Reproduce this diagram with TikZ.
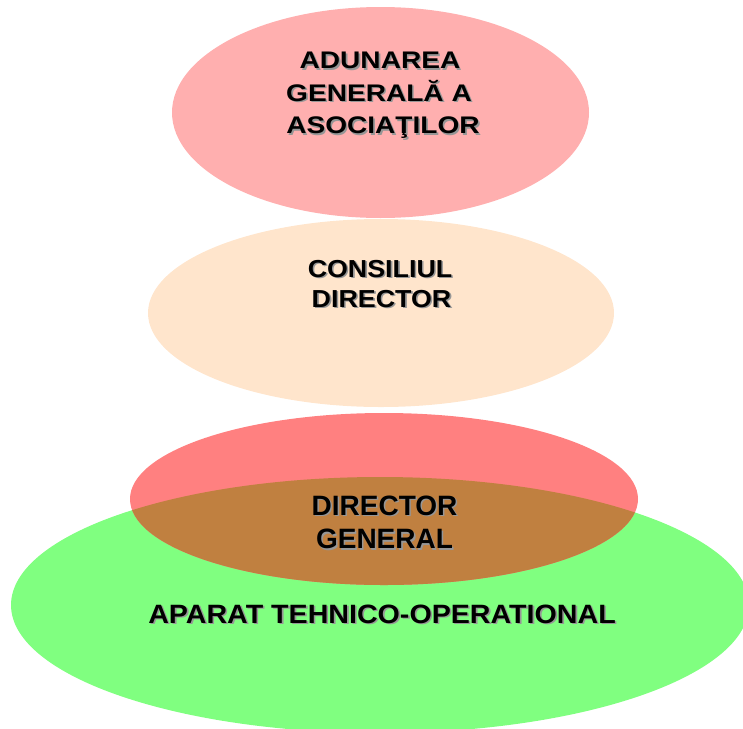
\documentclass[tikz,border=0pt]{standalone}
\usepackage{fontspec}
\setmainfont{Liberation Sans}
\definecolor{pinktop}{RGB}{255,175,175}
\definecolor{peach}{RGB}{255,229,204}
\definecolor{redell}{RGB}{255,128,128}
\definecolor{greenell}{RGB}{128,255,128}
\definecolor{overlap}{RGB}{192,128,64}
\definecolor{shadowgrey}{RGB}{150,150,150}
\newcommand{\ShLine}[6]{%
  \node[txtmain] (#1) at (#2,#3) {\fontsize{#4}{#4}\selectfont
    \rlap{\hspace{1.6pt}\raisebox{-1.6pt}{\color{shadowgrey}\scalebox{#5}[1]{#6}}}%
    \scalebox{#5}[1]{#6}};
}
\begin{document}
\begin{tikzpicture}[x=1pt,y=-1pt,
  txtmain/.style={anchor=base,inner sep=0pt,font=\bfseries,text=black}]
\useasboundingbox (0,0) rectangle (743,728);
% ellipses
\fill[pinktop] (380.5,112.5) ellipse [x radius=208.5, y radius=105.5];
\fill[peach] (381,313) ellipse [x radius=233, y radius=94];
\fill[greenell] (380,605) ellipse [x radius=369, y radius=128];
\fill[redell] (384,499) ellipse [x radius=254, y radius=86];
\begin{scope}
  \clip (380,605) ellipse [x radius=369, y radius=128];
  \fill[overlap] (384,499) ellipse [x radius=254, y radius=86];
\end{scope}
% texts
\ShLine{t1}{380}{68.5}{24}{1.17}{ADUNAREA}
\ShLine{t2}{379}{101}{24}{1.17}{GENERALĂ A}
\ShLine{t3}{383}{133.5}{24}{1.17}{ASOCIAŢILOR}
\ShLine{c1}{380}{277}{24.6}{1.09}{CONSILIUL}
\ShLine{c2}{381.5}{307}{24.6}{1.09}{DIRECTOR}
\ShLine{d1}{384.5}{515}{28}{1.0}{DIRECTOR}
\ShLine{d2}{384.5}{548.5}{28}{1.0}{GENERAL}
\ShLine{a1}{382}{623}{26.5}{1.08}{APARAT TEHNICO-OPERATIONAL}
\end{tikzpicture}
\end{document}
